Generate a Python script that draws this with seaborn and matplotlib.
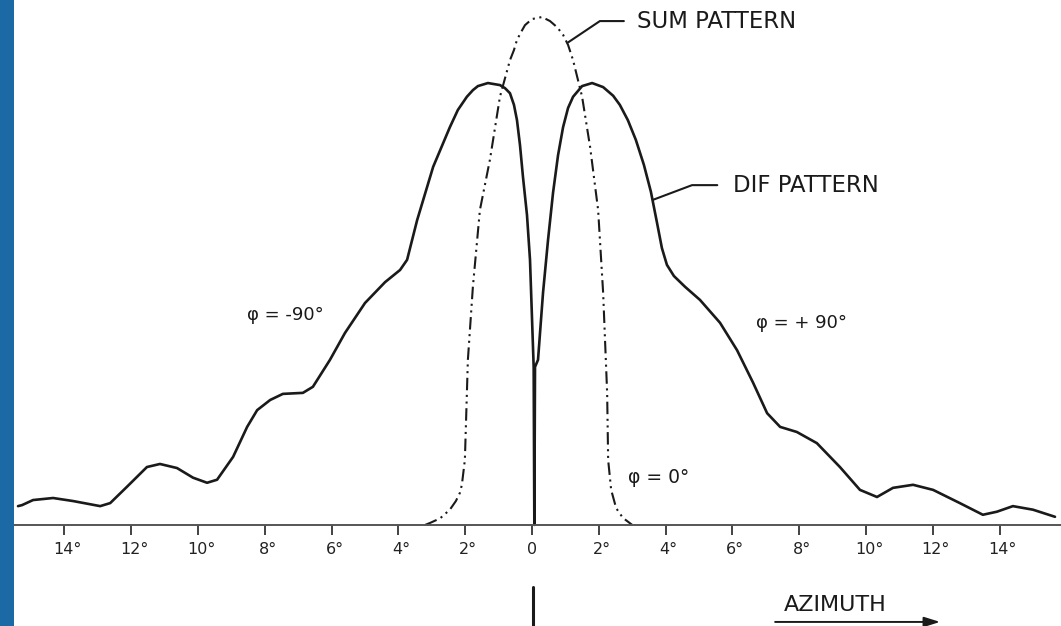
import matplotlib
matplotlib.use("Agg")
import matplotlib.pyplot as plt
import matplotlib.transforms as mtransforms
from matplotlib.patches import Rectangle
import pandas as pd
import seaborn as sns

# ---------------- data (azimuth in degrees, relative amplitude) ----------------
sum_az = [-3.20, -3.05, -2.75, -2.46, -2.28, -2.16, -2.10, -2.01, -1.92, -1.77,
          -1.56, -1.26, -0.96, -0.66, -0.54, -0.45, -0.33, -0.21, 0.00, 0.30,
          0.54, 0.75, 0.93, 1.08, 1.23, 1.50, 1.74, 1.98, 2.13, 2.25,
          2.28, 2.37, 2.52, 2.72, 3.00]
sum_amp = [0.000, 0.004, 0.013, 0.030, 0.047, 0.063, 0.079, 0.128, 0.325, 0.469,
           0.620, 0.719, 0.843, 0.915, 0.935, 0.955, 0.970, 0.984, 0.996, 1.000,
           0.992, 0.980, 0.965, 0.945, 0.915, 0.843, 0.744, 0.620, 0.457, 0.260,
           0.128, 0.069, 0.033, 0.014, 0.000]

dif_az = [-15.39, -15.27, -14.94, -14.34, -13.74, -12.93, -12.63, -12.13, -11.53, -11.14,
          -10.63, -10.15, -9.73, -9.43, -8.95, -8.53, -8.23, -7.84, -7.46, -6.86,
          -6.56, -6.05, -5.60, -5.00, -4.40, -3.95, -3.74, -3.44, -2.96, -2.46,
          -2.22, -1.95, -1.77, -1.62, -1.32, -0.96, -0.81, -0.66, -0.54, -0.45,
          -0.36, -0.27, -0.15, -0.06, 0.05, 0.07,
          0.09, 0.18, 0.33, 0.48, 0.63, 0.78, 0.93, 1.08, 1.23, 1.50,
          1.80, 2.13, 2.43, 2.63, 2.87, 3.11, 3.35, 3.56, 3.74, 3.89,
          4.04, 4.25, 4.58, 5.03, 5.63, 6.14, 6.62, 7.04, 7.43, 7.93,
          8.53, 9.22, 9.82, 10.33, 10.81, 11.41, 12.01, 12.81, 13.50, 13.92,
          14.40, 15.00, 15.66]
dif_amp = [0.037, 0.039, 0.049, 0.053, 0.047, 0.037, 0.043, 0.075, 0.114, 0.120,
           0.112, 0.093, 0.083, 0.089, 0.134, 0.193, 0.226, 0.246, 0.258, 0.260,
           0.272, 0.325, 0.378, 0.437, 0.478, 0.502, 0.522, 0.600, 0.705, 0.783,
           0.817, 0.843, 0.856, 0.864, 0.870, 0.866, 0.860, 0.850, 0.827, 0.797,
           0.748, 0.685, 0.610, 0.522, 0.311, 0.000,
           0.311, 0.325, 0.457, 0.561, 0.654, 0.728, 0.783, 0.821, 0.843, 0.864,
           0.870, 0.862, 0.845, 0.827, 0.797, 0.758, 0.709, 0.656, 0.596, 0.545,
           0.512, 0.490, 0.469, 0.443, 0.398, 0.344, 0.280, 0.220, 0.193, 0.183,
           0.161, 0.114, 0.069, 0.055, 0.073, 0.079, 0.069, 0.043, 0.020, 0.026,
           0.037, 0.030, 0.016]

tick_pos = [-14, -12, -10, -8, -6, -4, -2, 0, 2, 4, 6, 8, 10, 12, 14]
tick_labels = ["14°", "12°", "10°", "8°", "6°", "4°", "2°", "0",
               "2°", "4°", "6°", "8°", "10°", "12°", "14°"]

sum_df = pd.DataFrame({"azimuth": sum_az, "amplitude": sum_amp})
dif_df = pd.DataFrame({"azimuth": dif_az, "amplitude": dif_amp})

# ---------------- figure ----------------
sns.set_theme(style="white")
plt.rcParams["font.family"] = ["DejaVu Sans"]

fig = plt.figure(figsize=(10.61, 6.26), dpi=100)
ax = fig.add_axes([0, 0, 1, 1])
ax.set_facecolor("white")

ink = "#1a1a1a"

sns.lineplot(data=dif_df, x="azimuth", y="amplitude", ax=ax, color=ink,
             linewidth=1.9, estimator=None, sort=False)
sns.lineplot(data=sum_df, x="azimuth", y="amplitude", ax=ax, color=ink,
             linewidth=1.5, estimator=None, sort=False,
             linestyle=(0, (6, 2.2, 1, 2.2, 1, 2.2)))

ax.set_xlim(-15.93, 15.84)
ax.set_ylim(-0.199, 1.0335)
ax.set_xlabel("")
ax.set_ylabel("")

# axis line through zero with downward ticks
for s in ["left", "right", "top"]:
    ax.spines[s].set_visible(False)
ax.spines["bottom"].set_position(("data", 0))
ax.spines["bottom"].set_color("#555555")
ax.spines["bottom"].set_linewidth(1.4)
ax.set_yticks([])
ax.set_xticks(tick_pos)
ax.set_xticklabels(tick_labels)
ax.tick_params(axis="x", direction="out", length=7, width=1.2, colors="#222222",
               labelsize=11.5, pad=5, bottom=True)
shift = mtransforms.ScaledTranslation(3 / 100, 0, fig.dpi_scale_trans)
for lab in ax.get_xticklabels():
    if lab.get_text() != "0":
        lab.set_transform(lab.get_transform() + shift)

# centre line below the axis (below the "0" label)
ax.axvline(0.03, ymin=0.0, ymax=0.062, color=ink, linewidth=2.2)

# annotations
ax.annotate("SUM PATTERN", xy=(1.08, 0.950), xytext=(3.14, 0.992),
            ha="left", va="center", fontsize=16.4, color=ink,
            arrowprops=dict(arrowstyle="-", color=ink, lw=1.5, relpos=(0, 0.5),
                            shrinkA=7, shrinkB=0,
                            connectionstyle="arc,angleA=180,armA=37,angleB=0,armB=0,rad=0"))
ax.annotate("DIF PATTERN", xy=(3.62, 0.640), xytext=(6.02, 0.669),
            ha="left", va="center", fontsize=16.4, color=ink,
            arrowprops=dict(arrowstyle="-", color=ink, lw=1.5, relpos=(0, 0.5),
                            shrinkA=9, shrinkB=0,
                            connectionstyle="arc,angleA=180,armA=41,angleB=0,armB=0,rad=0"))

ax.text(-7.37, 0.413, "φ = -90°", ha="center", va="center", fontsize=13, color=ink)
ax.text(8.08, 0.398, "φ = + 90°", ha="center", va="center", fontsize=13, color=ink)
ax.text(3.80, 0.094, "φ = 0°", ha="center", va="center", fontsize=13.5, color=ink)

ax.text(9.07, -0.157, "AZIMUTH", ha="center", va="center", fontsize=16, color=ink)
ax.annotate("", xy=(12.22, -0.191), xytext=(7.28, -0.191),
            arrowprops=dict(arrowstyle="-|>,head_length=0.8,head_width=0.25",
                            color=ink, lw=1.4, shrinkA=0, shrinkB=0))

# blue strip at the left edge
fig.patches.append(Rectangle((0, 0), 14 / 1061, 1, transform=fig.transFigure,
                             facecolor="#1b6aa6", edgecolor="none", zorder=5))

fig.savefig("out.png", dpi=100)
